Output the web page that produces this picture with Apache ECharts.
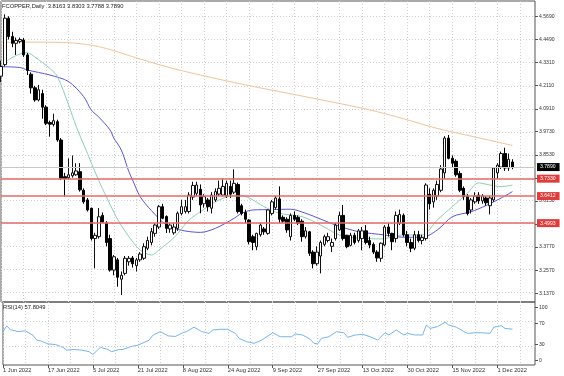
<!DOCTYPE html>
<html><head><meta charset="utf-8">
<script src="https://cdn.jsdelivr.net/npm/echarts@6/dist/echarts.min.js"></script>
<style>html,body{margin:0;padding:0;background:#fff;}#c{width:564px;height:376px;}</style>
</head><body><div id="c"></div>
<script>
const dates = ['2022.06.01','2022.06.02','2022.06.03','2022.06.06','2022.06.07','2022.06.08','2022.06.09','2022.06.10','2022.06.13','2022.06.14','2022.06.15','2022.06.16','2022.06.17','2022.06.20','2022.06.21','2022.06.22','2022.06.23','2022.06.24','2022.06.27','2022.06.28','2022.06.29','2022.06.30',
'2022.07.01','2022.07.04','2022.07.05','2022.07.06','2022.07.07','2022.07.08','2022.07.11','2022.07.12','2022.07.13','2022.07.14','2022.07.15','2022.07.18','2022.07.19','2022.07.20','2022.07.21','2022.07.22','2022.07.25','2022.07.26','2022.07.27','2022.07.28','2022.07.29',
'2022.08.01','2022.08.02','2022.08.03','2022.08.04','2022.08.05','2022.08.08','2022.08.09','2022.08.10','2022.08.11','2022.08.12','2022.08.15','2022.08.16','2022.08.17','2022.08.18','2022.08.19','2022.08.22','2022.08.23','2022.08.24','2022.08.25','2022.08.26','2022.08.29','2022.08.30','2022.08.31',
'2022.09.01','2022.09.02','2022.09.05','2022.09.06','2022.09.07','2022.09.08','2022.09.09','2022.09.12','2022.09.13','2022.09.14','2022.09.15','2022.09.16','2022.09.19','2022.09.20','2022.09.21','2022.09.22','2022.09.23','2022.09.26','2022.09.27','2022.09.28','2022.09.29','2022.09.30',
'2022.10.03','2022.10.04','2022.10.05','2022.10.06','2022.10.07','2022.10.10','2022.10.11','2022.10.12','2022.10.13','2022.10.14','2022.10.17','2022.10.18','2022.10.19','2022.10.20','2022.10.21','2022.10.24','2022.10.25','2022.10.26','2022.10.27','2022.10.28','2022.10.30','2022.10.31',
'2022.11.01','2022.11.02','2022.11.03','2022.11.04','2022.11.07','2022.11.08','2022.11.09','2022.11.10','2022.11.11','2022.11.14','2022.11.15','2022.11.16','2022.11.17','2022.11.18','2022.11.21','2022.11.22','2022.11.23','2022.11.24','2022.11.25','2022.11.28','2022.11.29','2022.11.30',
'2022.12.01','2022.12.02','2022.12.05','2022.12.06','2022.12.07'];
const emptySlots = ['','','','','',''];

const opens = [4.26,4.32,4.56,4.465,4.43,4.44,4.447,4.37,4.27,4.20,
4.137,4.17,4.10,4.02,4.01,4.025,3.93,3.74,3.735,3.745,
3.75,3.766,3.67,3.62,3.577,3.42,3.43,3.54,3.50,3.42,
3.257,3.31,3.21,3.24,3.30,3.32,3.28,3.31,3.318,3.37,
3.40,3.447,3.48,3.585,3.534,3.47,3.45,3.473,3.55,3.56,
3.56,3.635,3.654,3.675,3.60,3.62,3.577,3.62,3.65,3.645,
3.64,3.69,3.66,3.70,3.59,3.555,3.516,3.43,3.378,3.44,
3.47,3.447,3.55,3.58,3.625,3.53,3.52,3.43,3.54,3.53,
3.51,3.43,3.455,3.35,3.29,3.33,3.39,3.41,3.38,3.42,
3.465,3.54,3.437,3.385,3.437,3.41,3.42,3.46,3.41,3.39,
3.35,3.318,3.387,3.48,3.447,3.42,3.50,3.54,3.44,3.40,
3.37,3.44,3.41,3.42,3.65,3.61,3.64,3.67,3.76,3.94,
3.835,3.82,3.757,3.68,3.64,3.568,3.61,3.645,3.615,3.63,
3.59,3.62,3.76,3.79,3.86,3.785,3.8163];
const closes = [4.31,4.56,4.465,4.43,4.445,4.45,4.37,4.29,4.20,4.137,
4.19,4.10,4.016,4.012,4.03,3.93,3.732,3.73,3.75,3.76,
3.77,3.672,3.61,3.568,3.42,3.437,3.533,3.506,3.40,3.257,
3.326,3.22,3.23,3.318,3.318,3.29,3.31,3.34,3.378,3.41,
3.456,3.49,3.585,3.525,3.473,3.49,3.48,3.551,3.585,3.585,
3.645,3.695,3.697,3.594,3.637,3.585,3.645,3.663,3.68,3.69,
3.706,3.65,3.706,3.56,3.55,3.52,3.404,3.40,3.447,3.49,
3.455,3.568,3.61,3.63,3.52,3.51,3.465,3.54,3.52,3.50,
3.43,3.46,3.344,3.29,3.35,3.40,3.43,3.43,3.40,3.49,
3.54,3.42,3.378,3.437,3.40,3.46,3.46,3.40,3.387,3.35,
3.32,3.396,3.48,3.447,3.404,3.54,3.545,3.44,3.40,3.37,
3.44,3.41,3.425,3.697,3.60,3.67,3.70,3.78,3.94,3.835,
3.81,3.75,3.67,3.637,3.55,3.62,3.64,3.615,3.64,3.605,
3.63,3.785,3.80,3.86,3.785,3.83,3.789];
const highs = [4.34,4.58,4.57,4.49,4.46,4.46,4.457,4.38,4.28,4.21,
4.215,4.19,4.11,4.03,4.066,4.035,3.94,3.76,3.835,3.85,
3.81,3.81,3.68,3.63,3.58,3.45,3.578,3.555,3.51,3.44,
3.335,3.32,3.25,3.33,3.33,3.33,3.32,3.35,3.396,3.43,
3.475,3.50,3.594,3.60,3.54,3.50,3.50,3.56,3.62,3.62,
3.66,3.714,3.714,3.70,3.65,3.63,3.66,3.68,3.72,3.73,
3.72,3.72,3.778,3.71,3.60,3.57,3.52,3.44,3.45,3.50,
3.48,3.57,3.62,3.64,3.69,3.54,3.53,3.55,3.56,3.54,
3.52,3.48,3.46,3.36,3.38,3.41,3.44,3.45,3.42,3.50,
3.559,3.594,3.44,3.45,3.45,3.47,3.48,3.49,3.43,3.40,
3.36,3.40,3.49,3.50,3.45,3.56,3.57,3.55,3.46,3.42,
3.46,3.46,3.44,3.706,3.68,3.68,3.72,3.80,3.95,3.956,
3.85,3.83,3.77,3.69,3.65,3.63,3.66,3.66,3.65,3.64,
3.64,3.79,3.81,3.87,3.89,3.86,3.8303];
const lows = [4.23,4.31,4.45,4.41,4.37,4.43,4.36,4.266,4.17,4.128,
4.13,4.04,4.007,3.947,4.0,3.921,3.723,3.637,3.725,3.735,
3.745,3.663,3.60,3.56,3.41,3.266,3.42,3.50,3.38,3.249,
3.23,3.171,3.128,3.23,3.28,3.27,3.25,3.30,3.31,3.36,
3.385,3.43,3.47,3.52,3.449,3.45,3.44,3.46,3.54,3.55,
3.55,3.62,3.64,3.551,3.58,3.56,3.55,3.61,3.64,3.64,
3.63,3.63,3.65,3.55,3.54,3.50,3.39,3.36,3.36,3.43,
3.44,3.44,3.54,3.57,3.50,3.50,3.45,3.41,3.51,3.49,
3.404,3.42,3.33,3.266,3.28,3.24,3.38,3.40,3.35,3.41,
3.46,3.41,3.37,3.38,3.39,3.40,3.36,3.39,3.37,3.34,
3.30,3.30,3.38,3.43,3.36,3.40,3.49,3.43,3.38,3.35,
3.36,3.40,3.39,3.41,3.57,3.58,3.62,3.66,3.73,3.83,
3.79,3.74,3.66,3.62,3.54,3.55,3.60,3.60,3.60,3.59,
3.545,3.61,3.73,3.78,3.77,3.77,3.7788];

// moving averages: [bar index, value]
const maSlow = [[0,4.436],[10,4.436],[18,4.433],[22,4.426],[26,4.413],[30,4.392],[35,4.361],[44,4.309],[53,4.266],[65,4.215],[83,4.146],[98,4.086],[107,4.040],[116,3.990],[125,3.950],[136,3.902]];
const maMid = [[0,4.309],[5,4.305],[7,4.292],[13,4.266],[18,4.232],[22,4.154],[24,4.085],[26,4.049],[29,3.982],[30,3.940],[32,3.878],[34,3.766],[35,3.723],[37,3.637],[40,3.565],[44,3.490],[48,3.463],[53,3.452],[57,3.473],[62,3.525],[64,3.551],[67,3.568],[72,3.570],[77,3.572],[81,3.551],[85,3.521],[89,3.490],[95,3.456],[102,3.439],[107,3.427],[112,3.427],[116,3.464],[120,3.533],[125,3.559],[129,3.591],[133,3.630],[136,3.663]];
const maFast = [[0,4.308],[2,4.345],[5,4.375],[7,4.382],[9,4.359],[13,4.300],[15,4.258],[18,4.11],[20,4.0],[23,3.86],[26,3.72],[28,3.637],[31,3.52],[34,3.43],[37,3.361],[40,3.335],[42,3.361],[46,3.425],[48,3.470],[50,3.516],[53,3.559],[58,3.620],[63,3.646],[66,3.630],[70,3.585],[74,3.551],[80,3.534],[85,3.490],[89,3.447],[92,3.428],[96,3.422],[101,3.418],[107,3.439],[112,3.439],[116,3.516],[120,3.585],[124,3.654],[127,3.708],[130,3.697],[133,3.689],[136,3.697]];
const rsi = [[0,54],[1,63],[2,57],[4,54],[6,55],[8,48],[9,40],[10,39],[12,34],[14,33],[16,28.5],[17,24],[19,25],[21,24],[23,21.5],[24,17],[26,28.5],[28,25],[29,21.5],[31,25],[32,25],[34,29.5],[36,32],[39,40],[40,48],[42,54],[44,47],[46,46],[48,52],[49,54],[51,61],[53,54],[55,51],[56,56.5],[58,57.6],[60,57.6],[62,51],[63,43],[65,37.6],[67,35],[69,40],[71,48],[72,52],[74,45.6],[75,45.6],[77,45.6],[78,50],[80,48.4],[82,41.5],[83,35],[84,34],[85,43],[87,45.6],[89,53.7],[91,52],[92,44.7],[94,48.4],[96,49.5],[98,45.6],[100,40.3],[102,52],[103,48.4],[105,56.5],[107,48.4],[108,51],[110,48.4],[112,48.4],[113,64.5],[114,59],[116,62],[118,69],[119,64.5],[121,61],[123,54],[124,51],[126,52],[128,52],[130,51],[131,61],[133,63.4],[134,59],[136,57.8]];

const priceTicks = [3.1370,3.2570,3.3770,3.4950,3.6150,3.7330,3.8530,3.9730,4.0910,4.2110,4.3310,4.4490,4.5690];
const rsiTicks = [0,30,70,100];
const rsiLevels = [30,70];
const xTickLabels = ['1 Jun 2022','17 Jun 2022','5 Jul 2022','21 Jul 2022','8 Aug 2022','24 Aug 2022','9 Sep 2022','27 Sep 2022','13 Oct 2022','30 Oct 2022','15 Nov 2022','1 Dec 2022'];
const levels = [3.7330,3.6412,3.4993];
const lastPrice = 3.7890;
const titleText = 'FCOPPER,Daily  3.8163 3.8303 3.7788 3.7890';
const rsiTitle = 'RSI(14) 57.8049';

const cats = dates.concat(emptySlots);
const candles = opens.map((o,i)=>[o, closes[i], lows[i], highs[i]]);
const FONT = 'Liberation Sans';
const DOT = {color:'#cfcfcf', type:[1,2], width:1};
const gridLine = {show:true, lineStyle:DOT};

const boxLabel = (bg, v) => ({show:true, position:'end', distance:2, formatter:v.toFixed(4),
  backgroundColor:bg, color:'#fff', fontSize:5.1, fontFamily:FONT, padding:[1,4,1,3], lineHeight:6});

const chart = echarts.init(document.getElementById('c'), null, {renderer:'canvas'});
chart.setOption({
  animation:false,
  backgroundColor:'#ffffff',
  textStyle:{fontFamily:FONT},
  title:[
    {text:titleText, left:2, top:3, padding:0, textStyle:{fontSize:5.8, fontWeight:'normal', color:'#222', fontFamily:FONT}},
    {text:rsiTitle, left:3, top:304.5, padding:0, textStyle:{fontSize:5.8, fontWeight:'normal', color:'#222', fontFamily:FONT}}
  ],
  grid:[
    {left:1, right:29, top:1, height:301, show:true, borderColor:'#555', borderWidth:1, backgroundColor:'transparent'},
    {left:1, right:29, top:302, height:63, show:true, borderColor:'#555', borderWidth:1, backgroundColor:'transparent'}
  ],
  xAxis:[
    {type:'category', gridIndex:0, data:cats, boundaryGap:false,
     axisLine:{show:false}, axisTick:{show:false}, axisLabel:{show:false},
     splitLine:Object.assign({interval:5}, gridLine)},
    {type:'category', gridIndex:1, data:cats, boundaryGap:false,
     axisLine:{show:false},
     axisTick:{show:true, interval:11, length:3, lineStyle:{color:'#555'}},
     axisLabel:{show:true, interval:11, align:'left', margin:2, fontSize:5.75, color:'#333', fontFamily:FONT,
       formatter:(v, idx)=> (idx % 12 === 0 && xTickLabels[idx/12]) ? xTickLabels[idx/12] : ''},
     splitLine:Object.assign({interval:5}, gridLine)}
  ],
  yAxis:[
    {type:'value', gridIndex:0, position:'right', min:3.092, max:4.649, scale:true,
     axisLine:{show:false},
     axisTick:{show:true, length:3, customValues:priceTicks, lineStyle:{color:'#555'}},
     axisLabel:{show:true, customValues:priceTicks, margin:4, fontSize:5.1, color:'#333', fontFamily:FONT, formatter:(v)=>v.toFixed(4)},
     splitLine:{show:false}},
    {type:'value', gridIndex:1, position:'right', min:0, max:101.6,
     axisLine:{show:false}, axisTick:{show:false}, axisLabel:{show:false}, splitLine:{show:false}},
    {type:'value', gridIndex:1, position:'right', min:-8, max:110,
     axisLine:{show:false},
     axisTick:{show:true, length:3, customValues:rsiTicks, lineStyle:{color:'#555'}},
     axisLabel:{show:true, customValues:rsiTicks, margin:4, fontSize:5.1, color:'#333', fontFamily:FONT},
     splitLine:{show:false}}
  ],
  series:[
    {type:'line', xAxisIndex:0, yAxisIndex:0, data:maSlow, showSymbol:false, smooth:0.3, lineStyle:{color:'#f0c39a', width:1}, z:1,
     markLine:{silent:true, symbol:['none','none'], label:{show:false}, lineStyle:DOT, z:0,
       data:priceTicks.map(v=>({yAxis:v}))}},
    {type:'line', xAxisIndex:0, yAxisIndex:0, data:maMid, showSymbol:false, smooth:0.3, lineStyle:{color:'#5b55d6', width:1}, z:1},
    {type:'line', xAxisIndex:0, yAxisIndex:0, data:maFast, showSymbol:false, smooth:0.3, lineStyle:{color:'#8ad1b2', width:1}, z:1},
    {type:'candlestick', xAxisIndex:0, yAxisIndex:0, data:candles, barWidth:3,
     itemStyle:{color:'#ffffff', color0:'#000000', borderColor:'#111', borderColor0:'#000', borderWidth:1},
     markLine:{silent:true, symbol:['none','none'], animation:false,
       data:[{yAxis:lastPrice, lineStyle:{color:'#c8c8c8', type:'solid', width:1}, label:boxLabel('#000000', lastPrice)}]
         .concat(levels.map(v=>({yAxis:v, lineStyle:{color:'#e86a6a', type:'solid', width:1.6}, label:boxLabel('#e23b3b', v)})))
     }, z:3},
    {type:'line', xAxisIndex:1, yAxisIndex:1, data:rsi, showSymbol:false, lineStyle:{color:'#76b6ee', width:1},
     markLine:{silent:true, symbol:['none','none'], label:{show:false},
       lineStyle:DOT,
       data:rsiLevels.map(v=>({yAxis:v}))}}
  ]
});
</script></body></html>
